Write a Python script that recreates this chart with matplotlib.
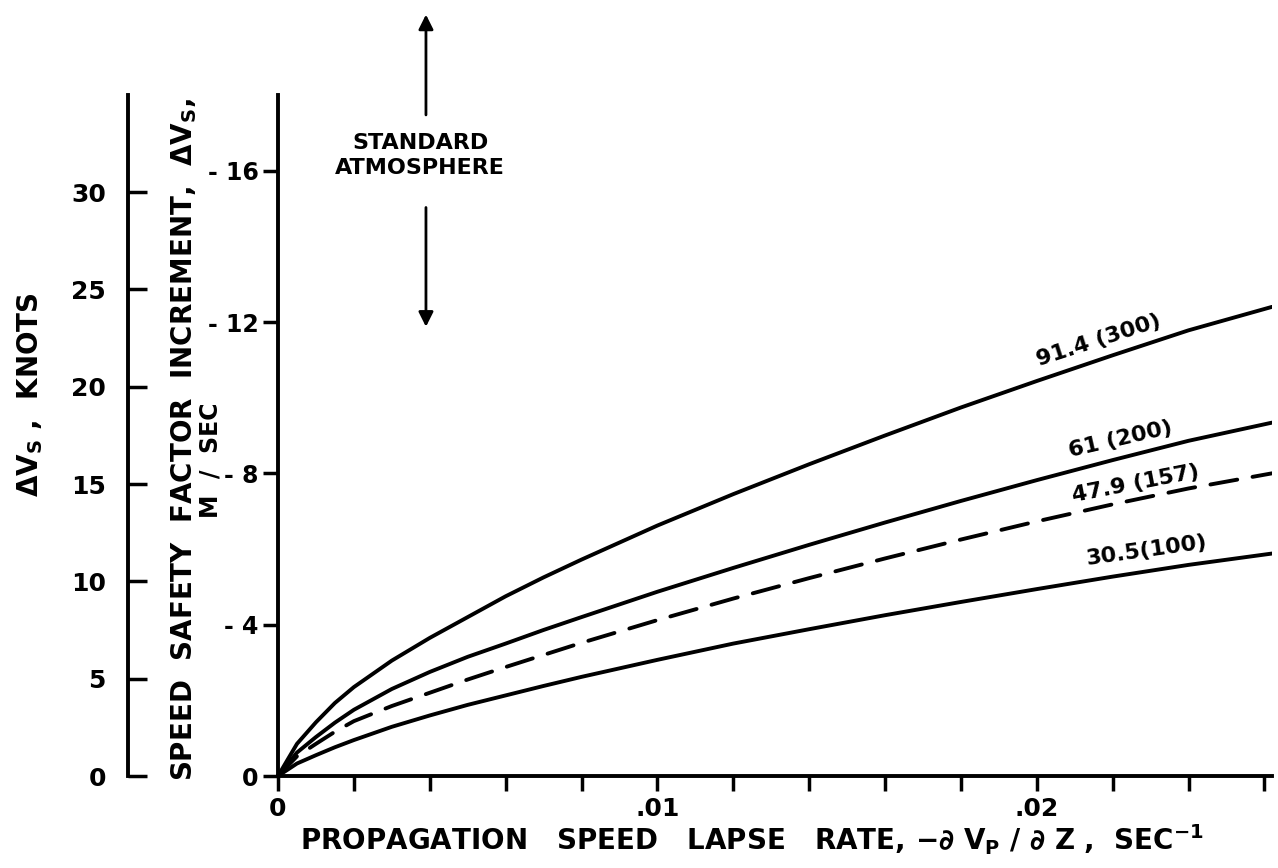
import numpy as np
import matplotlib.pyplot as plt

# Datos (m/s contra tasa de caida, 1/s)
lapseRate = [0, 0.0005, 0.001, 0.0015, 0.002, 0.003, 0.004, 0.005, 0.006, 0.007,
             0.008, 0.010, 0.012, 0.014, 0.016, 0.018, 0.020, 0.022, 0.024, 0.0262]
dv914 = [0, 0.85, 1.42, 1.93, 2.35, 3.05, 3.65, 4.2, 4.75, 5.25,
         5.72, 6.62, 7.45, 8.24, 9.0, 9.74, 10.44, 11.12, 11.78, 12.4]
dv61 = [0, 0.62, 1.03, 1.41, 1.75, 2.3, 2.75, 3.15, 3.5, 3.86,
        4.2, 4.87, 5.5, 6.11, 6.7, 7.27, 7.82, 8.35, 8.86, 9.34]
dv479 = [0, 0.52, 0.85, 1.17, 1.45, 1.85, 2.2, 2.55, 2.88, 3.2,
         3.52, 4.12, 4.69, 5.23, 5.75, 6.25, 6.73, 7.18, 7.6, 8.0]
dv305 = [0, 0.33, 0.55, 0.76, 0.95, 1.3, 1.6, 1.88, 2.13, 2.38,
         2.62, 3.07, 3.5, 3.88, 4.25, 4.6, 4.94, 5.27, 5.58, 5.88]
curveLabels = ["91.4 (300)", "61 (200)", "47.9 (157)", "30.5(100)"]

xTicks = np.arange(0, 0.0261, 0.002)
xTickLabels = {0.0: "0", 0.01: ".01", 0.02: ".02"}
msTicks = [0, 4, 8, 12, 16]
msTickLabels = ["0", "- 4", "- 8", "- 12", "- 16"]
knotTicks = [0, 5, 10, 15, 20, 25, 30]
MS_TO_KNOTS = 1.944

plt.rcParams["font.family"] = ["DejaVu Sans"]
plt.rcParams["font.weight"] = "bold"
plt.rcParams["mathtext.default"] = "bf"

W, H = 1278, 868
fig = plt.figure(figsize=(W / 100, H / 100), dpi=100)

axLeft, axBottom, axTop, axRight = 278, 776, 95, 1272
ax = fig.add_axes([axLeft / W, (H - axBottom) / H,
                   (axRight - axLeft) / W, (axBottom - axTop) / H])
ymax = 18.0
ax.set_xlim(0, 0.0262)
ax.set_ylim(0, ymax)

# Curvas
lw = 2.8
ax.plot(lapseRate, dv914, color="k", lw=lw, solid_capstyle="round")
ax.plot(lapseRate, dv61, color="k", lw=lw, solid_capstyle="round")
ax.plot(lapseRate, dv479, color="k", lw=lw, dashes=(7, 4), dash_capstyle="round")
ax.plot(lapseRate, dv305, color="k", lw=lw, solid_capstyle="round")

# Etiquetas de las curvas
labelPos = [(0.02163, 11.5, 18), (0.02221, 8.9, 13),
            (0.0226, 7.72, 11), (0.0229, 5.95, 8)]
for text, (lx, ly, rot) in zip(curveLabels, labelPos):
    ax.text(lx, ly, text, fontsize=16, fontweight="bold", rotation=rot,
            ha="center", va="center", rotation_mode="anchor")

# Ejes estilo dibujo
for side in ["top", "right"]:
    ax.spines[side].set_visible(False)
for side in ["left", "bottom"]:
    ax.spines[side].set_linewidth(2.8)
ax.set_xticks(xTicks)
ax.set_xticklabels([xTickLabels.get(round(t, 3), "") for t in xTicks])
ax.set_yticks(msTicks)
ax.set_yticklabels(msTickLabels)
ax.tick_params(axis="both", direction="out", length=11, width=2.5,
               labelsize=18, pad=4)
ax.tick_params(axis="y", labelsize=17, pad=3)

# Titulo del eje x
fig.text(752 / W, 1 - 840 / H,
         r"PROPAGATION   SPEED   LAPSE   RATE, $-\partial$ V$_P$ / $\partial$ Z ,  SEC$^{-1}$",
         ha="center", va="center", fontsize=20, fontweight="bold")

# Flecha de atmosfera estandar
atmX = 0.0039
ax.text(atmX - 0.00015, 16.4, "STANDARD\nATMOSPHERE", ha="center", va="center",
        fontsize=16, fontweight="bold", linespacing=1.3)
ax.annotate("", xy=(atmX, 20.2), xytext=(atmX, 17.4), annotation_clip=False,
            arrowprops=dict(arrowstyle="-|>", color="k", lw=2, mutation_scale=22))
ax.annotate("", xy=(atmX, 11.8), xytext=(atmX, 15.1), annotation_clip=False,
            arrowprops=dict(arrowstyle="-|>", color="k", lw=2, mutation_scale=22))

# Eje izquierdo en nudos
kx = 128
axK = fig.add_axes([kx / W, (H - axBottom) / H, 0.001, (axBottom - axTop) / H])
axK.set_ylim(0, ymax * MS_TO_KNOTS)
axK.set_xticks([])
for side in ["top", "right", "bottom"]:
    axK.spines[side].set_visible(False)
axK.spines["left"].set_linewidth(2.8)
axK.set_yticks(knotTicks)
axK.tick_params(axis="y", direction="in", length=14, width=2.5,
                labelsize=18, pad=16)
axK.patch.set_alpha(0)

# Titulos de los ejes verticales
fig.text(30 / W, 1 - 395 / H, r"$\Delta$V$_S$ ,  KNOTS", rotation=90,
         ha="center", va="center", fontsize=20, fontweight="bold")
fig.text(184 / W, 1 - 440 / H, r"SPEED  SAFETY  FACTOR  INCREMENT,  $\Delta$V$_S$,",
         rotation=90, ha="center", va="center", fontsize=20, fontweight="bold")
fig.text(211 / W, 1 - 460 / H, "M  /  SEC", rotation=90,
         ha="center", va="center", fontsize=17, fontweight="bold")

fig.savefig("out.png", dpi=100)
